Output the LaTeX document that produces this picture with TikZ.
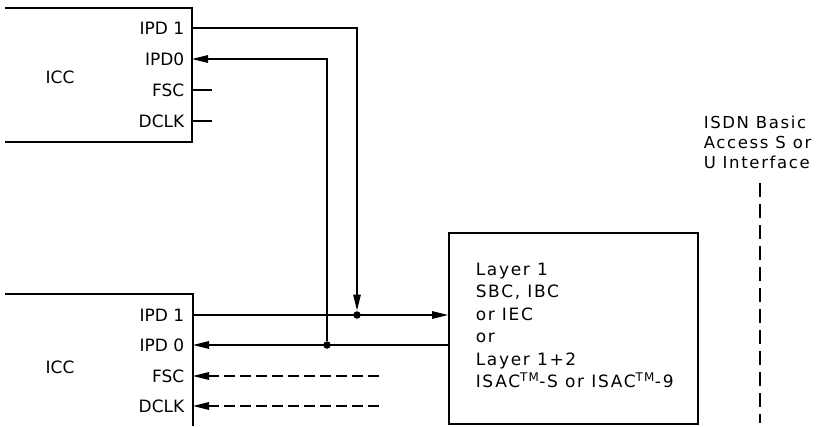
\documentclass[tikz,border=0pt]{standalone}
\usepackage{fontspec}
\setmainfont{DejaVu Sans}
\newfontfamily\wideface[LetterSpace=10]{DejaVu Sans}
\usetikzlibrary{arrows.meta}
\begin{document}
\begin{tikzpicture}[x=1pt,y=-1pt, line width=1.5pt,
  tip/.style={-{Triangle[length=16pt,width=7.5pt]}},
  lbl/.style={font=\fontsize{17}{20}\selectfont, inner sep=0pt, anchor=base east},
  txt/.style={font=\fontsize{17}{20}\selectfont, inner sep=0pt},
  wtxt/.style={inner sep=0pt, anchor=north west, align=left},
  dot/.style={circle,fill,inner sep=0pt,minimum size=7.5pt},
  dsh/.style={dash pattern=on 11pt off 5pt}]
\useasboundingbox (0,0) rectangle (817,426);

% top ICC
\draw (5,8) -| (192,142) -- (5,142);
\node[txt] (icc1) at (60,77) {ICC};
\node[lbl] (t1l) at (185,34) {IPD 1};
\node[lbl] (t0l) at (185,65) {IPD0};
\node[lbl] (tFl) at (185,96) {FSC};
\node[lbl] (tDl) at (185,127) {DCLK};
\coordinate (t1) at (192,28);
\coordinate (t0) at (192,59);
\coordinate (tF) at (192,90);
\coordinate (tD) at (192,121);
\coordinate (tFe) at (212,90);
\coordinate (tDe) at (212,121);
\draw (tF) -- (tFe);
\draw (tD) -- (tDe);

% bottom ICC
\draw (5,294) -| (193,426);
\node[txt] (icc2) at (60,367) {ICC};
\node[lbl] (b1l) at (185,321) {IPD 1};
\node[lbl] (b0l) at (185,351) {IPD 0};
\node[lbl] (bFl) at (185,382) {FSC};
\node[lbl] (bDl) at (185,412) {DCLK};
\coordinate (b1) at (193,315);
\coordinate (b0) at (193,345);
\coordinate (bF) at (193,376);
\coordinate (bD) at (193,406);
\coordinate (bFm) at (218,376);
\coordinate (bDm) at (218,406);
\coordinate (bFe) at (379,376);
\coordinate (bDe) at (379,406);

% layer box
\node[draw, anchor=north west, minimum width=249pt, minimum height=191pt, inner sep=0pt] (layer) at (448,232) {};
\node[wtxt, font=\wideface\fontsize{17}{22.5}\selectfont] (ltxt) at (475,262)
  {Layer 1\\SBC, IBC\\or IEC\\or\\Layer 1+2\\ISAC\textsuperscript{TM}-S or ISAC\textsuperscript{TM}-9};
\coordinate (L1) at (layer.west |- b1);
\coordinate (L0) at (layer.west |- b0);

% junction dots
\node[dot] (d1) at (357,315) {};
\node[dot] (d0) at (327,345) {};

% connectors
\draw[tip] (t1) -| (d1);
\draw[tip] (d0) |- (t0);
\draw[tip] (b1) -- (L1);
\draw[tip] (L0) -- (b0);
\draw[dsh] (bFe) -- (bFm);
\draw[dsh] (bDe) -- (bDm);
\draw[tip] (bFm) -- (bF);
\draw[tip] (bDm) -- (bD);

% interface
\node[wtxt, font=\wideface\fontsize{16.5}{20}\selectfont] (isdn) at (703,115)
  {ISDN Basic\\Access S or\\U Interface};
\coordinate (i1) at (760,183);
\coordinate (i2) at (760,423);
\draw[dash pattern=on 14pt off 7pt] (i1) -- (i2);
\end{tikzpicture}
\end{document}
